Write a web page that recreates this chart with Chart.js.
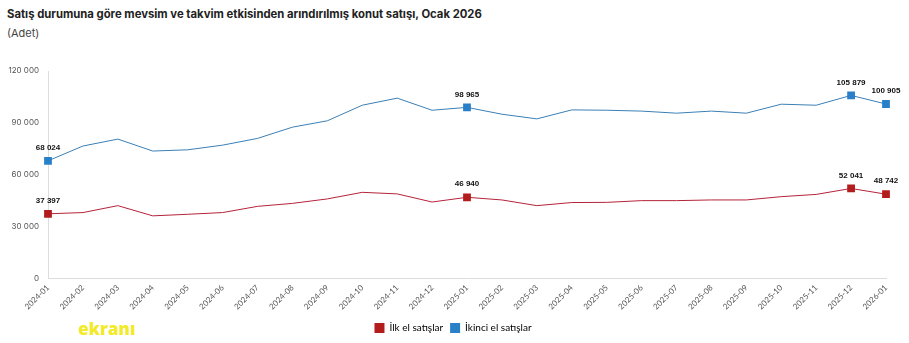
<!DOCTYPE html>
<html lang="tr">
<head>
    <meta charset="UTF-8">
    <title>Konut satışı</title>
    <script src="https://cdn.jsdelivr.net/npm/chart.js"></script>
    <style>
        body { margin: 0; background: #fff; width: 909px; height: 343px; overflow: hidden; position: relative; font-family: Inter, "Noto Sans", sans-serif; }
        #title { position: absolute; left: 7px; top: 7px; font-size: 11.3px; font-weight: 700; color: #222; }
        #subtitle { position: absolute; left: 7px; top: 26px; font-size: 11px; color: #444; }
        #mark { position: absolute; left: 78px; top: 317px; font-size: 17px; font-weight: 800; color: #f2ea2a; font-family: "Open Sans", sans-serif; }
        #wrap { position: absolute; left: 0; top: 0; width: 909px; height: 343px; }
    </style>
</head>
<body>
    <div id="title">Satış durumuna göre mevsim ve takvim etkisinden arındırılmış konut satışı, Ocak 2026</div>
    <div id="subtitle">(Adet)</div>
    <div id="wrap"><canvas id="salesChart" width="909" height="343"></canvas></div>
    <div id="mark">ekranı</div>

    <script>
        const months = ['2024-01','2024-02','2024-03','2024-04','2024-05','2024-06','2024-07','2024-08','2024-09','2024-10','2024-11','2024-12',
                        '2025-01','2025-02','2025-03','2025-04','2025-05','2025-06','2025-07','2025-08','2025-09','2025-10','2025-11','2025-12','2026-01'];
        // ilk el (first hand) sales
        const firstHand = [37397, 38100, 42100, 36200, 37100, 38100, 41700, 43400, 46000, 49800, 48900, 44200,
                           46940, 45400, 42100, 43900, 44000, 45000, 45000, 45400, 45400, 47300, 48600, 52041, 48742];
        // ikinci el (second hand) sales
        const secondHand = [68024, 76600, 80600, 73700, 74400, 77100, 81000, 87500, 91200, 100200, 104300, 97300,
                            98965, 95000, 92300, 97500, 97300, 96800, 95600, 96800, 95600, 100800, 100200, 105879, 100905];
        const labelled = [0, 12, 23, 24];
        const yTicks = [0, 30000, 60000, 90000, 120000];

        function fmt(v) {
            return v.toString().replace(/\B(?=(\d{3})+(?!\d))/g, ' ');
        }

        const radius = ctx => labelled.includes(ctx.dataIndex) ? 5.5 : 0;

        // draw value labels above the marked points
        const valueLabels = {
            id: 'valueLabels',
            afterDatasetsDraw(chart) {
                const ctx = chart.ctx;
                ctx.save();
                ctx.font = 'bold 8px "Liberation Sans", Arial, sans-serif';
                ctx.fillStyle = '#111';
                ctx.textAlign = 'center';
                ctx.textBaseline = 'bottom';
                chart.data.datasets.forEach((ds, i) => {
                    const meta = chart.getDatasetMeta(i);
                    labelled.forEach(idx => {
                        const pt = meta.data[idx];
                        ctx.fillText(fmt(ds.data[idx]), pt.x, pt.y - 9);
                    });
                });
                ctx.restore();
            }
        };

        // legend in the original sits a bit right of the canvas centre
        const legendShift = {
            id: 'legendShift',
            afterLayout(chart) {
                if (chart.legend) {
                    chart.legend.left += 10;
                    chart.legend.right += 10;
                }
            }
        };

        new Chart(document.getElementById('salesChart'), {
            type: 'line',
            data: {
                labels: months,
                datasets: [{
                    label: 'İlk el satışlar',
                    data: firstHand,
                    borderColor: '#b5233a',
                    backgroundColor: '#b21c1c',
                    borderWidth: 1,
                    pointStyle: 'rect',
                    pointRadius: radius,
                    pointHoverRadius: radius,
                    pointBorderWidth: 0,
                    tension: 0
                }, {
                    label: 'İkinci el satışlar',
                    data: secondHand,
                    borderColor: '#3b7fb5',
                    backgroundColor: '#2a80c8',
                    borderWidth: 1,
                    pointStyle: 'rect',
                    pointRadius: radius,
                    pointHoverRadius: radius,
                    pointBorderWidth: 0,
                    tension: 0
                }]
            },
            options: {
                responsive: false,
                animation: false,
                layout: { padding: { top: 71, right: 23, left: 0, bottom: 0 } },
                plugins: {
                    tooltip: { enabled: false },
                    legend: {
                        position: 'bottom',
                        labels: {
                            boxWidth: 10,
                            boxHeight: 10,
                            padding: 7,
                            color: '#333',
                            font: { family: 'Lato, "Noto Sans", sans-serif', size: 10 },
                            generateLabels(chart) {
                                return chart.data.datasets.map((ds, i) => ({
                                    text: ds.label,
                                    fillStyle: ds.backgroundColor,
                                    strokeStyle: ds.backgroundColor,
                                    lineWidth: 0,
                                    datasetIndex: i
                                }));
                            }
                        }
                    }
                },
                scales: {
                    x: {
                        grid: { display: false, drawTicks: false },
                        border: { display: true, color: '#ddd' },
                        ticks: {
                            minRotation: 45,
                            maxRotation: 45,
                            padding: 4.5,
                            color: '#555',
                            font: { family: 'Lato, "Noto Sans", sans-serif', size: 8 }
                        }
                    },
                    y: {
                        min: 0,
                        max: 120000,
                        afterBuildTicks(scale) {
                            scale.ticks = yTicks.map(v => ({ value: v }));
                        },
                        afterFit(scale) { scale.width = 48; },
                        grid: { display: false },
                        border: { display: true, color: '#ddd' },
                        ticks: {
                            padding: 1,
                            color: '#555',
                            font: { family: 'Inter, sans-serif', size: 8 },
                            callback: v => fmt(v)
                        }
                    }
                }
            },
            plugins: [valueLabels, legendShift]
        });
    </script>
</body>
</html>
